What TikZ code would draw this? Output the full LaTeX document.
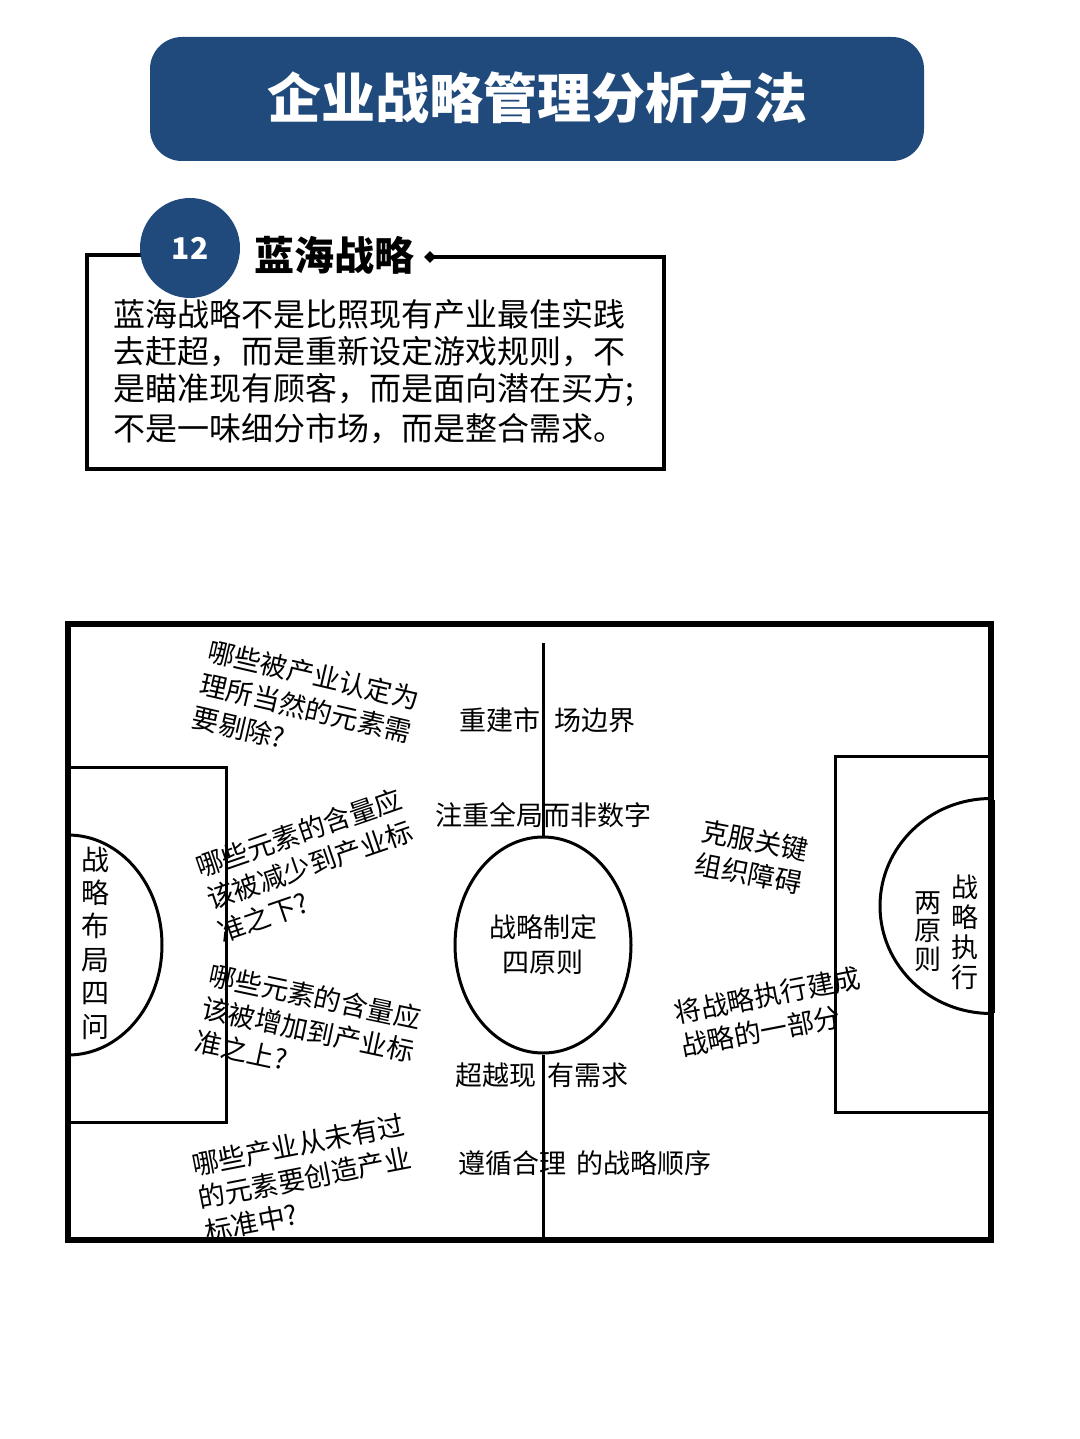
\documentclass[tikz,border=0pt]{standalone}
\usepackage{fontspec}
\setmainfont{Noto Sans CJK SC}
\usetikzlibrary{shapes.geometric}
\definecolor{navy}{RGB}{32,74,124}
\tikzset{
  fieldline/.style={line width=1.5pt},
  outerline/.style={line width=3.3pt},
  boxline/.style={line width=1.6pt},
  fieldtxt/.style={font=\fontsize{13.5pt}{17pt}\selectfont, inner sep=0pt, align=left},
  bodytxt/.style={font=\fontsize{16pt}{19pt}\selectfont, inner sep=0pt, anchor=west},
  vtxt/.style={inner sep=0pt, align=center},
}
\begin{document}
\begin{tikzpicture}[x=0.5pt,y=-0.5pt]
\path[use as bounding box, fill=white] (0,0) rectangle (1080,1439);

% banner
\node[fill=navy, rounded corners=16pt, minimum width=387pt, minimum height=62pt, inner sep=0pt] (banner) at (537,99) {};
\node[text=white, inner sep=0pt, font=\fontsize{27pt}{30pt}\selectfont\bfseries] (title) at (537,98) {企业战略管理分析方法};

% section box
\coordinate (tl) at (87,255);
\coordinate (bl) at (87,469);
\coordinate (br) at (664,469);
\coordinate (tr) at (664,257);
\coordinate (cl) at (190,255);
\node[diamond, fill=black, minimum size=6pt, inner sep=0pt] (dia) at (430,257) {};
\draw[boxline] (dia.center) -- (tr) -- (br) -- (bl) -- (tl) -- (cl);
\node[circle, fill=navy, minimum size=50pt, inner sep=0pt, text=white, font=\fontsize{15pt}{18pt}\selectfont\bfseries] (num) at (190,248) {12};
\node[inner sep=0pt, font=\fontsize{20pt}{24pt}\selectfont\bfseries] (sec) at (334,255) {蓝海战略};

\node[bodytxt] (b1) at (113,314) {蓝海战略不是比照现有产业最佳实践};
\node[bodytxt] (b2) at (113,352) {去赶超，而是重新设定游戏规则，不};
\node[bodytxt] (b3) at (113,390) {是瞄准现有顾客，而是面向潜在买方;};
\node[bodytxt] (b4) at (113,429) {不是一味细分市场，而是整合需求。};

% field
\coordinate (mtop) at (543,643);
\coordinate (mbot) at (543,1240);
\node[ellipse, draw, fill=white, fieldline, minimum width=88pt, minimum height=108pt, inner sep=0pt, align=center, font=\fontsize{13.5pt}{17.5pt}\selectfont] (ell) at (543,945) {战略制定\\四原则};
\draw[fieldline] (mtop) -- (ell.north);
\draw[fieldline] (ell.south) -- (mbot);

\draw[fieldline] (68,767) -| (226,1122) -- (68,1122);
\draw[fieldline] (991,756) -| (835,1112) -- (991,1112);

\begin{scope}
  \clip (68,700) rectangle (400,1200);
  \draw[fieldline] (68,945) ellipse [x radius=47pt, y radius=55pt];
\end{scope}
\begin{scope}
  \clip (700,700) rectangle (991,1200);
  \draw[fieldline] (991,906) ellipse [x radius=55.5pt, y radius=53.75pt];
\end{scope}

\draw[outerline] (68,624) rectangle (991,1240);
\draw[line width=2pt] (993,800) -- (993,1013);

% vertical labels
\node[vtxt, font=\fontsize{14pt}{16.7pt}\selectfont] (lq) at (95,943) {战\\略\\布\\局\\四\\问};
\node[vtxt, font=\fontsize{13.5pt}{15pt}\selectfont] (re1) at (965,932) {战\\略\\执\\行};
\node[vtxt, font=\fontsize{13.5pt}{14.25pt}\selectfont] (re2) at (928,931.5) {两\\原\\则};

% centre labels
\node[fieldtxt] (c1) at (547.5,720) {重建市\hspace{7pt}场边界};
\node[fieldtxt] (c2) at (543,815) {注重全局而非数字};
\node[fieldtxt] (c3) at (542,1075) {超越现\hspace{6pt}有需求};
\node[fieldtxt] (c4) at (585,1163) {遵循合理\hspace{5.5pt}的战略顺序};

% rotated labels
\node[fieldtxt, rotate=-13] (q1) at (306,708) {哪些被产业认定为\\理所当然的元素需\\要剔除?};
\node[fieldtxt, rotate=19] (q2) at (310,865) {哪些元素的含量应\\该被减少到产业标\\准之下?};
\node[fieldtxt, rotate=-12] (q3) at (308,1030) {哪些元素的含量应\\该被增加到产业标\\准之上?};
\node[fieldtxt, rotate=11] (q4) at (305,1178) {哪些产业从未有过\\的元素要创造产业\\标准中?};
\node[fieldtxt, rotate=-11] (r1) at (752,857) {克服关键\\组织障碍};
\node[fieldtxt, rotate=11] (r2) at (771,1012) {将战略执行建成\\战略的一部分};
\end{tikzpicture}
\end{document}
